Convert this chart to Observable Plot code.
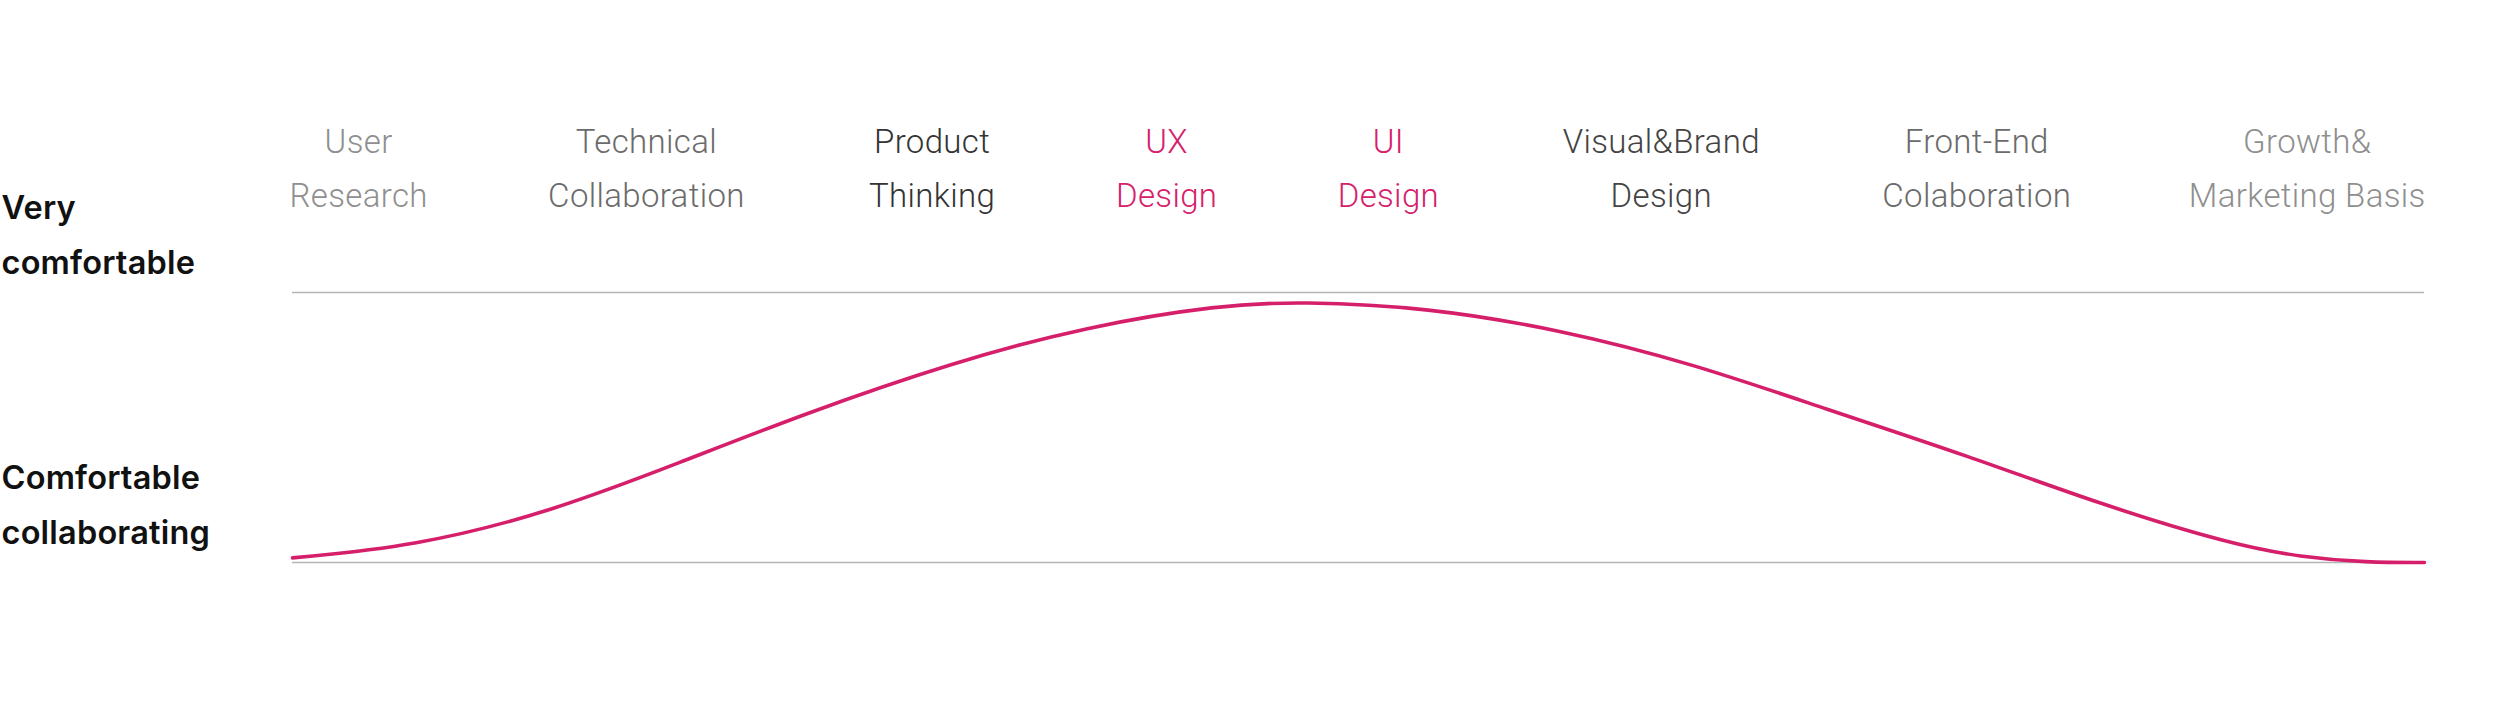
<!DOCTYPE html>
<html>
<head>
<meta charset="utf-8">
<script src="https://cdn.jsdelivr.net/npm/d3@7"></script>
<script src="https://cdn.jsdelivr.net/npm/@observablehq/plot@0.6"></script>
<style>
  html, body { margin: 0; padding: 0; background: #ffffff; }
  #chart svg { display: block; }
  .skill-label text { letter-spacing: 0.35px; }
  .level-label text { letter-spacing: 0.2px; }
</style>
</head>
<body>
<div id="chart"></div>
<script>
// Skill categories along the top (position along the 0–100 skill axis)
const skillLabels = ["User\nResearch", "Technical\nCollaboration", "Product\nThinking", "UX\nDesign", "UI\nDesign", "Visual&Brand\nDesign", "Front-End\nColaboration", "Growth&\nMarketing Basis"];
const skillPositions = [3.1, 16.6, 30.0, 41.0, 51.4, 64.2, 79.0, 94.5];
const skillColors = ["#8f8f8f", "#6b6b6b", "#333333", "#d6206b", "#d6206b", "#444444", "#6b6b6b", "#8f8f8f"];

// Comfort levels (y axis)
const levelLabels = ["Comfortable\ncollaborating", "Very\ncomfortable"];
const levelValues = [0, 1];

// Comfort curve
const curveX = [0, 5.7, 12.0, 18.2, 24.0, 31.0, 37.3, 43.5, 47.3, 53.2, 59.5, 65.7, 71.9, 78.6, 84.8, 91.0, 94.2, 97.3, 100];
const curveY = [0.017, 0.060, 0.184, 0.371, 0.551, 0.742, 0.875, 0.954, 0.967, 0.945, 0.862, 0.736, 0.569, 0.395, 0.215, 0.066, 0.020, 0.0, 0.0];

const curveData = curveX.map((x, i) => ({x, y: curveY[i]}));
const skillData = skillLabels.map((label, i) => ({label, pos: skillPositions[i], color: skillColors[i]}));
const levelData = levelLabels.map((label, i) => ({label, value: levelValues[i]}));

const chart = Plot.plot({
  width: 2500,
  height: 701,
  marginLeft: 292,
  marginRight: 76,
  marginTop: 292,
  marginBottom: 139,
  x: {domain: [0, 100], axis: null},
  y: {domain: [0, 1], axis: null},
  color: {type: "identity"},
  style: {background: "#ffffff", overflow: "visible"},
  marks: [
    Plot.ruleY(levelValues, {stroke: "#b5b5b5", strokeWidth: 1.6}),
    Plot.line(curveData, {x: "x", y: "y", curve: "basis", stroke: "#d61f6a", strokeWidth: 3.6}),
    Plot.text(skillData, {
      x: "pos", frameAnchor: "top", text: "label", fill: "color",
      fontFamily: "Roboto", fontWeight: 300, fontSize: 33,
      lineAnchor: "bottom", lineHeight: 1.62, dy: -86, className: "skill-label"
    }),
    Plot.text(levelData, {
      y: "value", frameAnchor: "left", text: "label", textAnchor: "start",
      fill: "#111111", fontFamily: "Inter", fontWeight: 600, fontSize: 32.5,
      lineAnchor: "bottom", lineHeight: 1.67, dx: -291, dy: -19, className: "level-label"
    })
  ]
});
document.getElementById("chart").appendChild(chart);
</script>
</body>
</html>
